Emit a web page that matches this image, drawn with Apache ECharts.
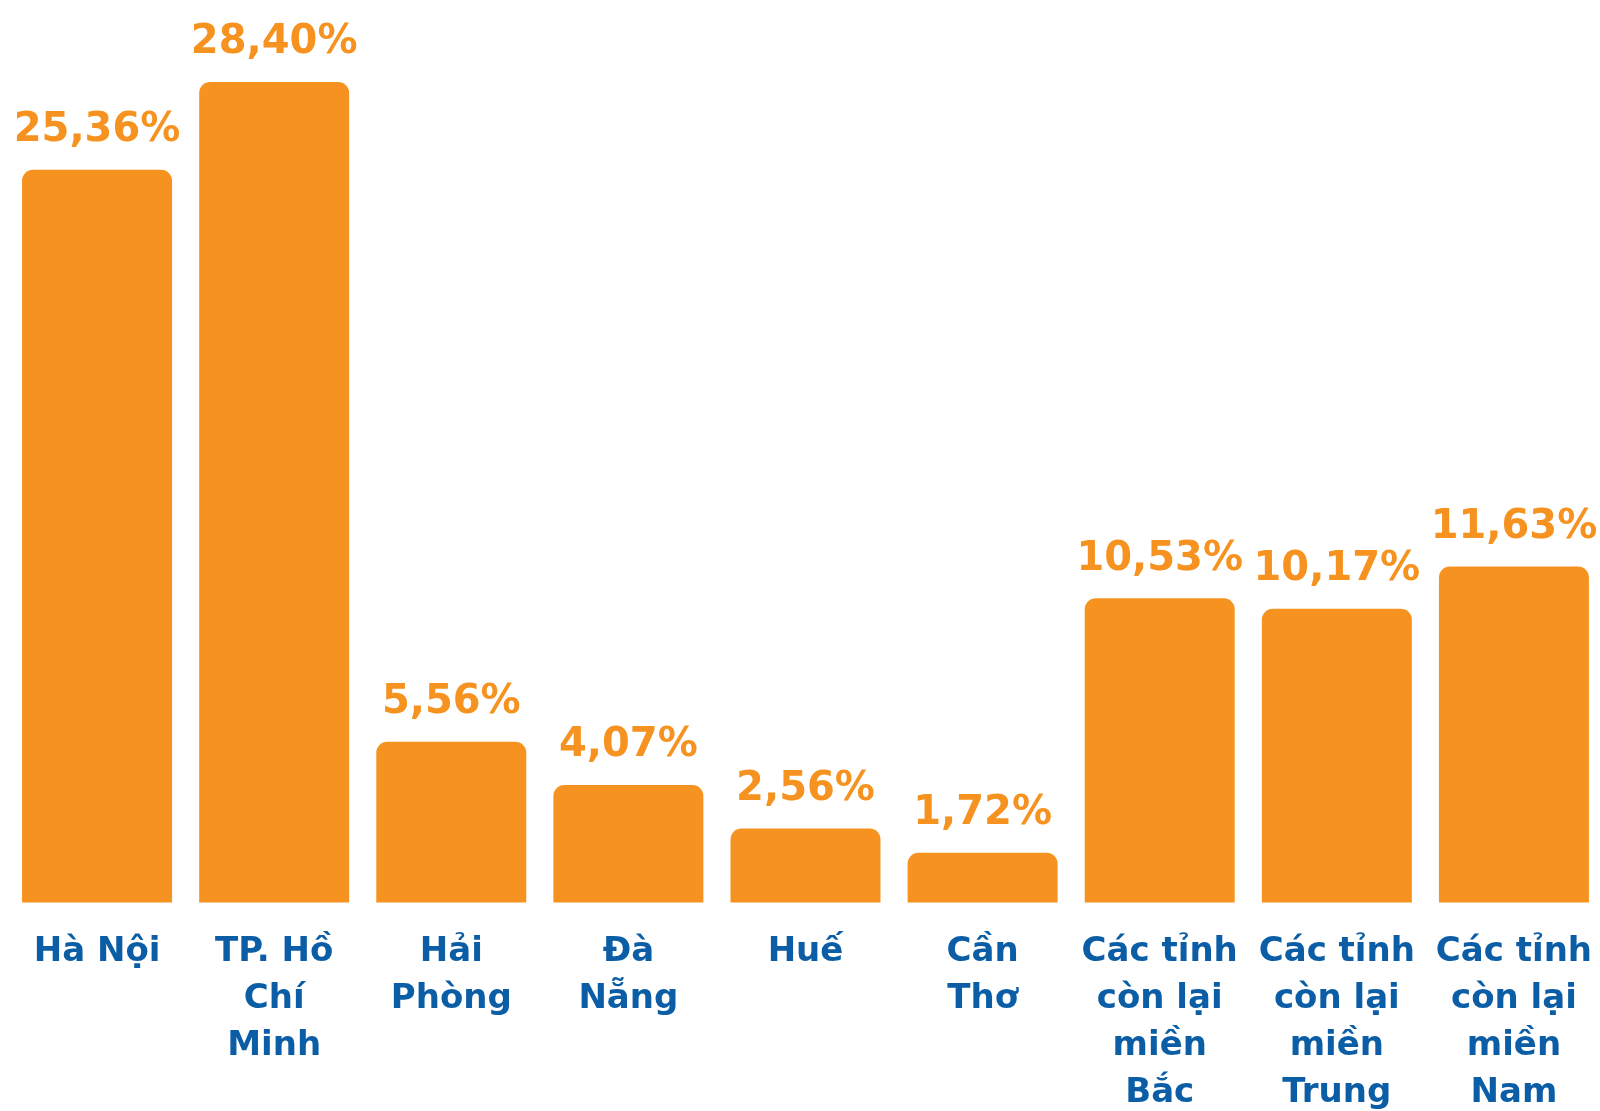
<!DOCTYPE html>
<html>
<head>
<meta charset="utf-8">
<script src="https://cdn.jsdelivr.net/npm/echarts@6/dist/echarts.min.js"></script>
<style>
  html, body { margin: 0; padding: 0; background: #ffffff; }
  #chart { width: 1600px; height: 1111px; }
</style>
</head>
<body>
<div id="chart"></div>
<script>
// Region names (line breaks as laid out under each column)
const regions = [
  'Hà Nội',
  'TP. Hồ\nChí\nMinh',
  'Hải\nPhòng',
  'Đà\nNẵng',
  'Huế',
  'Cần\nThơ',
  'Các tỉnh\ncòn lại\nmiền\nBắc',
  'Các tỉnh\ncòn lại\nmiền\nTrung',
  'Các tỉnh\ncòn lại\nmiền\nNam'
];

// Share of total, in percent
const shares = [25.36, 28.40, 5.56, 4.07, 2.56, 1.72, 10.53, 10.17, 11.63];

const ORANGE = '#F69320';
const BLUE = '#0B5EA5';
const FONT = '"DejaVu Sans", sans-serif';

const chart = echarts.init(document.getElementById('chart'), null, { renderer: 'canvas' });

chart.setOption({
  animation: false,
  backgroundColor: '#ffffff',
  grid: {
    left: 8.5, top: 35.8, width: 1594, height: 866.7,
    containLabel: false,
    outerBoundsMode: 'none'
  },
  xAxis: {
    type: 'category',
    data: regions,
    axisLine: { show: false },
    axisTick: { show: false },
    axisLabel: {
      interval: 0,
      margin: 26,
      color: BLUE,
      fontFamily: FONT,
      fontWeight: 'bold',
      fontSize: 34,
      lineHeight: 47,
      align: 'center',
      verticalAlign: 'top',
      hideOverlap: false
    }
  },
  yAxis: {
    type: 'value',
    min: 0,
    max: 30,
    show: false,
    splitLine: { show: false }
  },
  series: [{
    type: 'bar',
    data: shares,
    barWidth: 150,
    itemStyle: { color: ORANGE, borderRadius: [11, 11, 0, 0] },
    label: {
      show: true,
      position: 'top',
      distance: 19,
      color: ORANGE,
      fontFamily: FONT,
      fontWeight: 'bold',
      fontSize: 40,
      lineHeight: 40,
      formatter: p => p.value.toFixed(2).replace('.', ',') + '%'
    }
  }]
});
</script>
</body>
</html>
